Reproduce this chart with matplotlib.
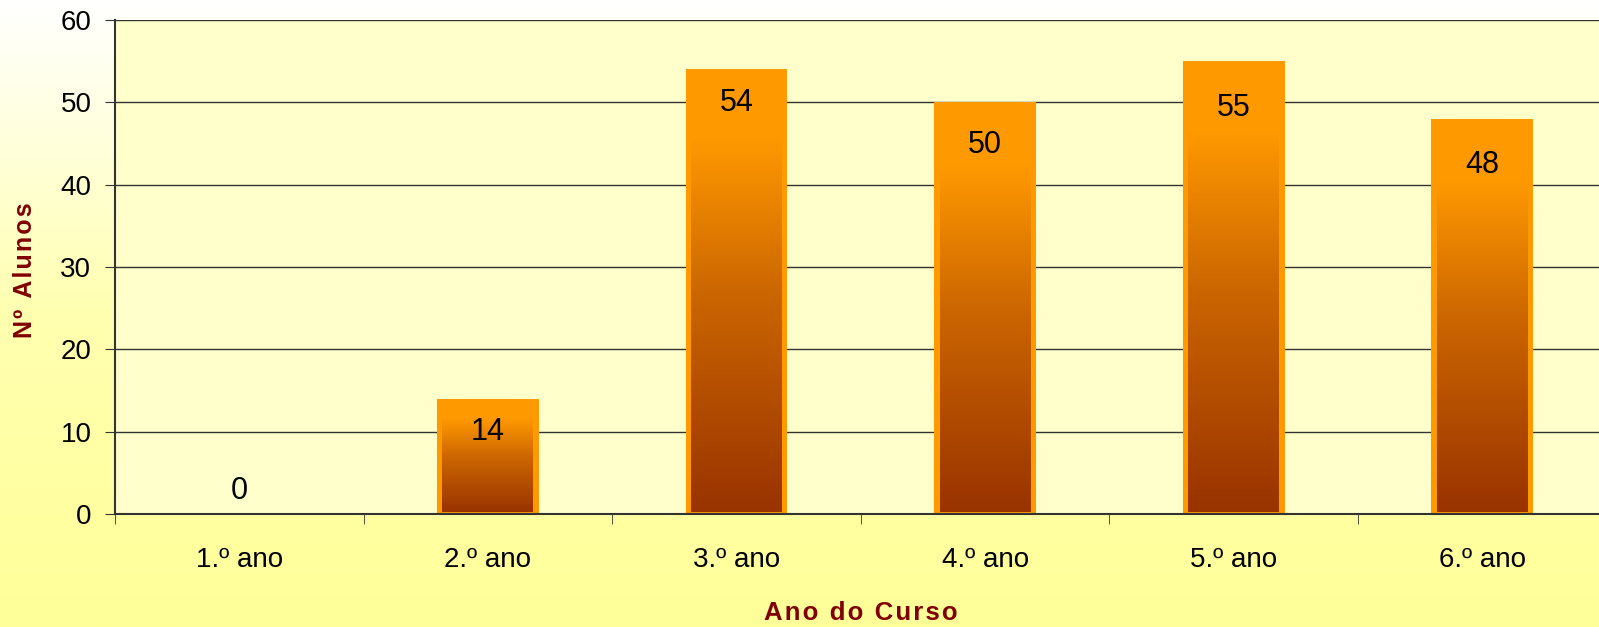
import numpy as np
import matplotlib
matplotlib.use("Agg")
import matplotlib.pyplot as plt
from matplotlib.colors import LinearSegmentedColormap

# data
anos = ["1.º ano", "2.º ano", "3.º ano", "4.º ano", "5.º ano", "6.º ano"]
alunos = [0, 14, 54, 50, 55, 48]

# where each value label sits relative to its bar top (pixels)
label_offsets = [23, -33, -34, -43, -47, -46]

plt.rcParams['font.family'] = ['Liberation Sans', 'DejaVu Sans']

fig = plt.figure(figsize=(15.99, 6.27), dpi=100)

# figure background: white at top fading to pale yellow at bottom
bg = fig.add_axes([0, 0, 1, 1], zorder=-10)
grad = np.linspace(0, 1, 256).reshape(-1, 1)
bg_cmap = LinearSegmentedColormap.from_list("bg", ["#FFFFFF", "#FFFFB0", "#FFFF99"])
bg.imshow(grad, aspect="auto", cmap=bg_cmap, extent=[0, 1, 1, 0])
bg.set_axis_off()

W, H = 1599, 627
left, bottom, top = 115, 514, 20
step = 248.6
ax = fig.add_axes([left / W, (H - bottom) / H, 6 * step / W, (bottom - top) / H])
ax.set_facecolor("#FFFFCC")

x = np.arange(len(anos))
bw = 0.41
ax.bar(x, alunos, width=bw, color="#FF9900", zorder=2)

bar_cmap = LinearSegmentedColormap.from_list(
    "bar", [(0, "#993300"), (0.5, "#CC6600"), (0.85, "#FF9900"), (1, "#FF9900")])
inset = 0.022
for xi, v, off in zip(x, alunos, label_offsets):
    if v > 0:
        ax.imshow(grad[::-1], aspect="auto", cmap=bar_cmap, zorder=3,
                  extent=[xi - bw / 2 + inset, xi + bw / 2 - inset, 0.25, v - 0.4])
    ax.annotate(str(v), (xi, v), xytext=(0, off * 0.72), textcoords="offset points",
                ha="center", va="center", fontsize=22, zorder=5)

ax.set_xlim(-0.5, len(anos) - 0.5)
ax.set_ylim(0, 60)
ax.set_yticks(range(0, 61, 10))
ax.yaxis.grid(True, color="#333333", linewidth=1)
ax.set_axisbelow(True)
ax.set_xticks(x)
ax.set_xticklabels(anos)
ax.set_xticks(np.arange(-0.5, len(anos), 1), minor=True)
ax.tick_params(axis="x", which="major", length=0, pad=24, labelsize=20)
ax.tick_params(axis="x", which="minor", length=7, color="#333333")
ax.tick_params(axis="y", length=7, color="#333333", labelsize=20, pad=10)

for s in ["top", "right"]:
    ax.spines[s].set_visible(False)
for s in ["left", "bottom"]:
    ax.spines[s].set_color("#333333")
    ax.spines[s].set_linewidth(1.5)

hair = "\u200a"
ylab = hair.join("Nº Alunos")
xlab = hair.join("Ano do Curso")
fig.text(25 / W, 1 - 270 / H, ylab, rotation=90, ha="center", va="center",
         fontsize=18, fontweight="bold", color="#800000")
fig.text((left + 3 * step) / W, 1 - 613 / H, xlab, ha="center", va="center",
         fontsize=18.5, fontweight="bold", color="#800000")

fig.savefig("out.png", dpi=100)
